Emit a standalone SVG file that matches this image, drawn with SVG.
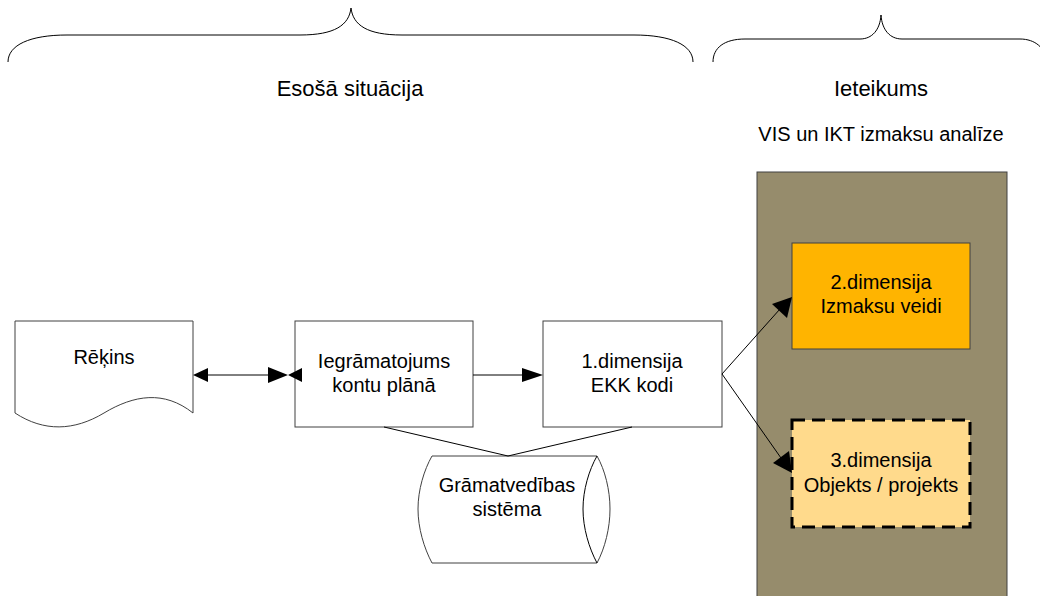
<svg xmlns="http://www.w3.org/2000/svg" width="1040" height="596" viewBox="0 0 1040 596">
<defs>
<style>
.t{font-family:"Liberation Sans",Arial,sans-serif;fill:#000;text-anchor:middle}
.n{font-size:20px}
.h{font-size:22px}
.box{fill:#fff;stroke:#404040;stroke-width:1}
.ln{fill:none;stroke:#000;stroke-width:1}
.hd{fill:#000;stroke:none}
</style>
</defs>
<rect width="1040" height="596" fill="#fff"/>
<g id="braces">
<path class="ln" d="M8,62 C8,45 30,35 67,35 L300,35 C335,35 349,25 351,8 C353,25 367,35 402,35 L634,35 C671,35 693,45 693,62"/>
<path class="ln" d="M713,62 C713,48 724,39 745,39 L860,39 C872,39 880,30 881,15 C882,30 890,39 902,39 L1020,39 C1035,39 1046,48 1046,62"/>
</g>
<g id="labels">
<text class="t h" x="350" y="96">Esošā situācija</text>
<text class="t h" x="881" y="96">Ieteikums</text>
<text class="t n" x="881" y="141">VIS un IKT izmaksu analīze</text>
</g>
<g id="panel">
<rect x="757" y="172" width="250" height="430" fill="#968C6C" stroke="#404040" stroke-width="1"/>
</g>
<g id="rekins">
<path class="box" d="M15,321 H193 V413 C164,390 134,395 104,413 C74,431 44,432 15,413 Z"/>
<text class="t n" x="104" y="364">Rēķins</text>
</g>
<g id="iegramatojums">
<rect class="box" x="295" y="321" width="178" height="106"/>
<text class="t n" x="384" y="368">Iegrāmatojums</text>
<text class="t n" x="384" y="392">kontu plānā</text>
</g>
<g id="dim1">
<rect class="box" x="543" y="321" width="179" height="106"/>
<text class="t n" x="632" y="368">1.dimensija</text>
<text class="t n" x="632" y="392">EKK kodi</text>
</g>
<g id="gramatvediba">
<path class="box" d="M432,456 H597 C605,470 610,490 610,509 C610,528 605,548 597,563 H432 C424,548 418,528 418,509 C418,490 424,470 432,456 Z"/>
<path class="ln" d="M597,456 C589,470 583,490 583,509 C583,528 589,548 597,563" stroke="#404040"/>
<text class="t n" x="507" y="492">Grāmatvedības</text>
<text class="t n" x="507" y="516">sistēma</text>
</g>
<g id="dim2">
<rect x="792" y="243" width="178" height="106" fill="#FFB400" stroke="#404040" stroke-width="1"/>
<text class="t n" x="881" y="289">2.dimensija</text>
<text class="t n" x="881" y="313">Izmaksu veidi</text>
</g>
<g id="dim3">
<rect x="792" y="420" width="178" height="107" fill="#FFDA8C" stroke="#000" stroke-width="3" stroke-dasharray="13,7"/>
<text class="t n" x="881" y="467">3.dimensija</text>
<text class="t n" x="881" y="492">Objekts / projekts</text>
</g>
<g id="connectors">
<line class="ln" x1="205" y1="375" x2="270" y2="375"/>
<polygon class="hd" points="193,375 208,368 208,382"/>
<polygon class="hd" points="288,375 268,367 268,383"/>
<polygon class="hd" points="288,375 302,368 302,382"/>
<line class="ln" x1="473" y1="375" x2="525" y2="375"/>
<polygon class="hd" points="543,375 522,368 522,382"/>
<line class="ln" x1="384" y1="427" x2="508" y2="456"/>
<line class="ln" x1="632" y1="427" x2="508" y2="456"/>
<line class="ln" x1="722" y1="374" x2="780" y2="309"/>
<polygon class="hd" points="792,297 787,318 772,304"/>
<line class="ln" x1="722" y1="374" x2="781" y2="458"/>
<polygon class="hd" points="792,473 773,463 789,451"/>
</g>
</svg>
